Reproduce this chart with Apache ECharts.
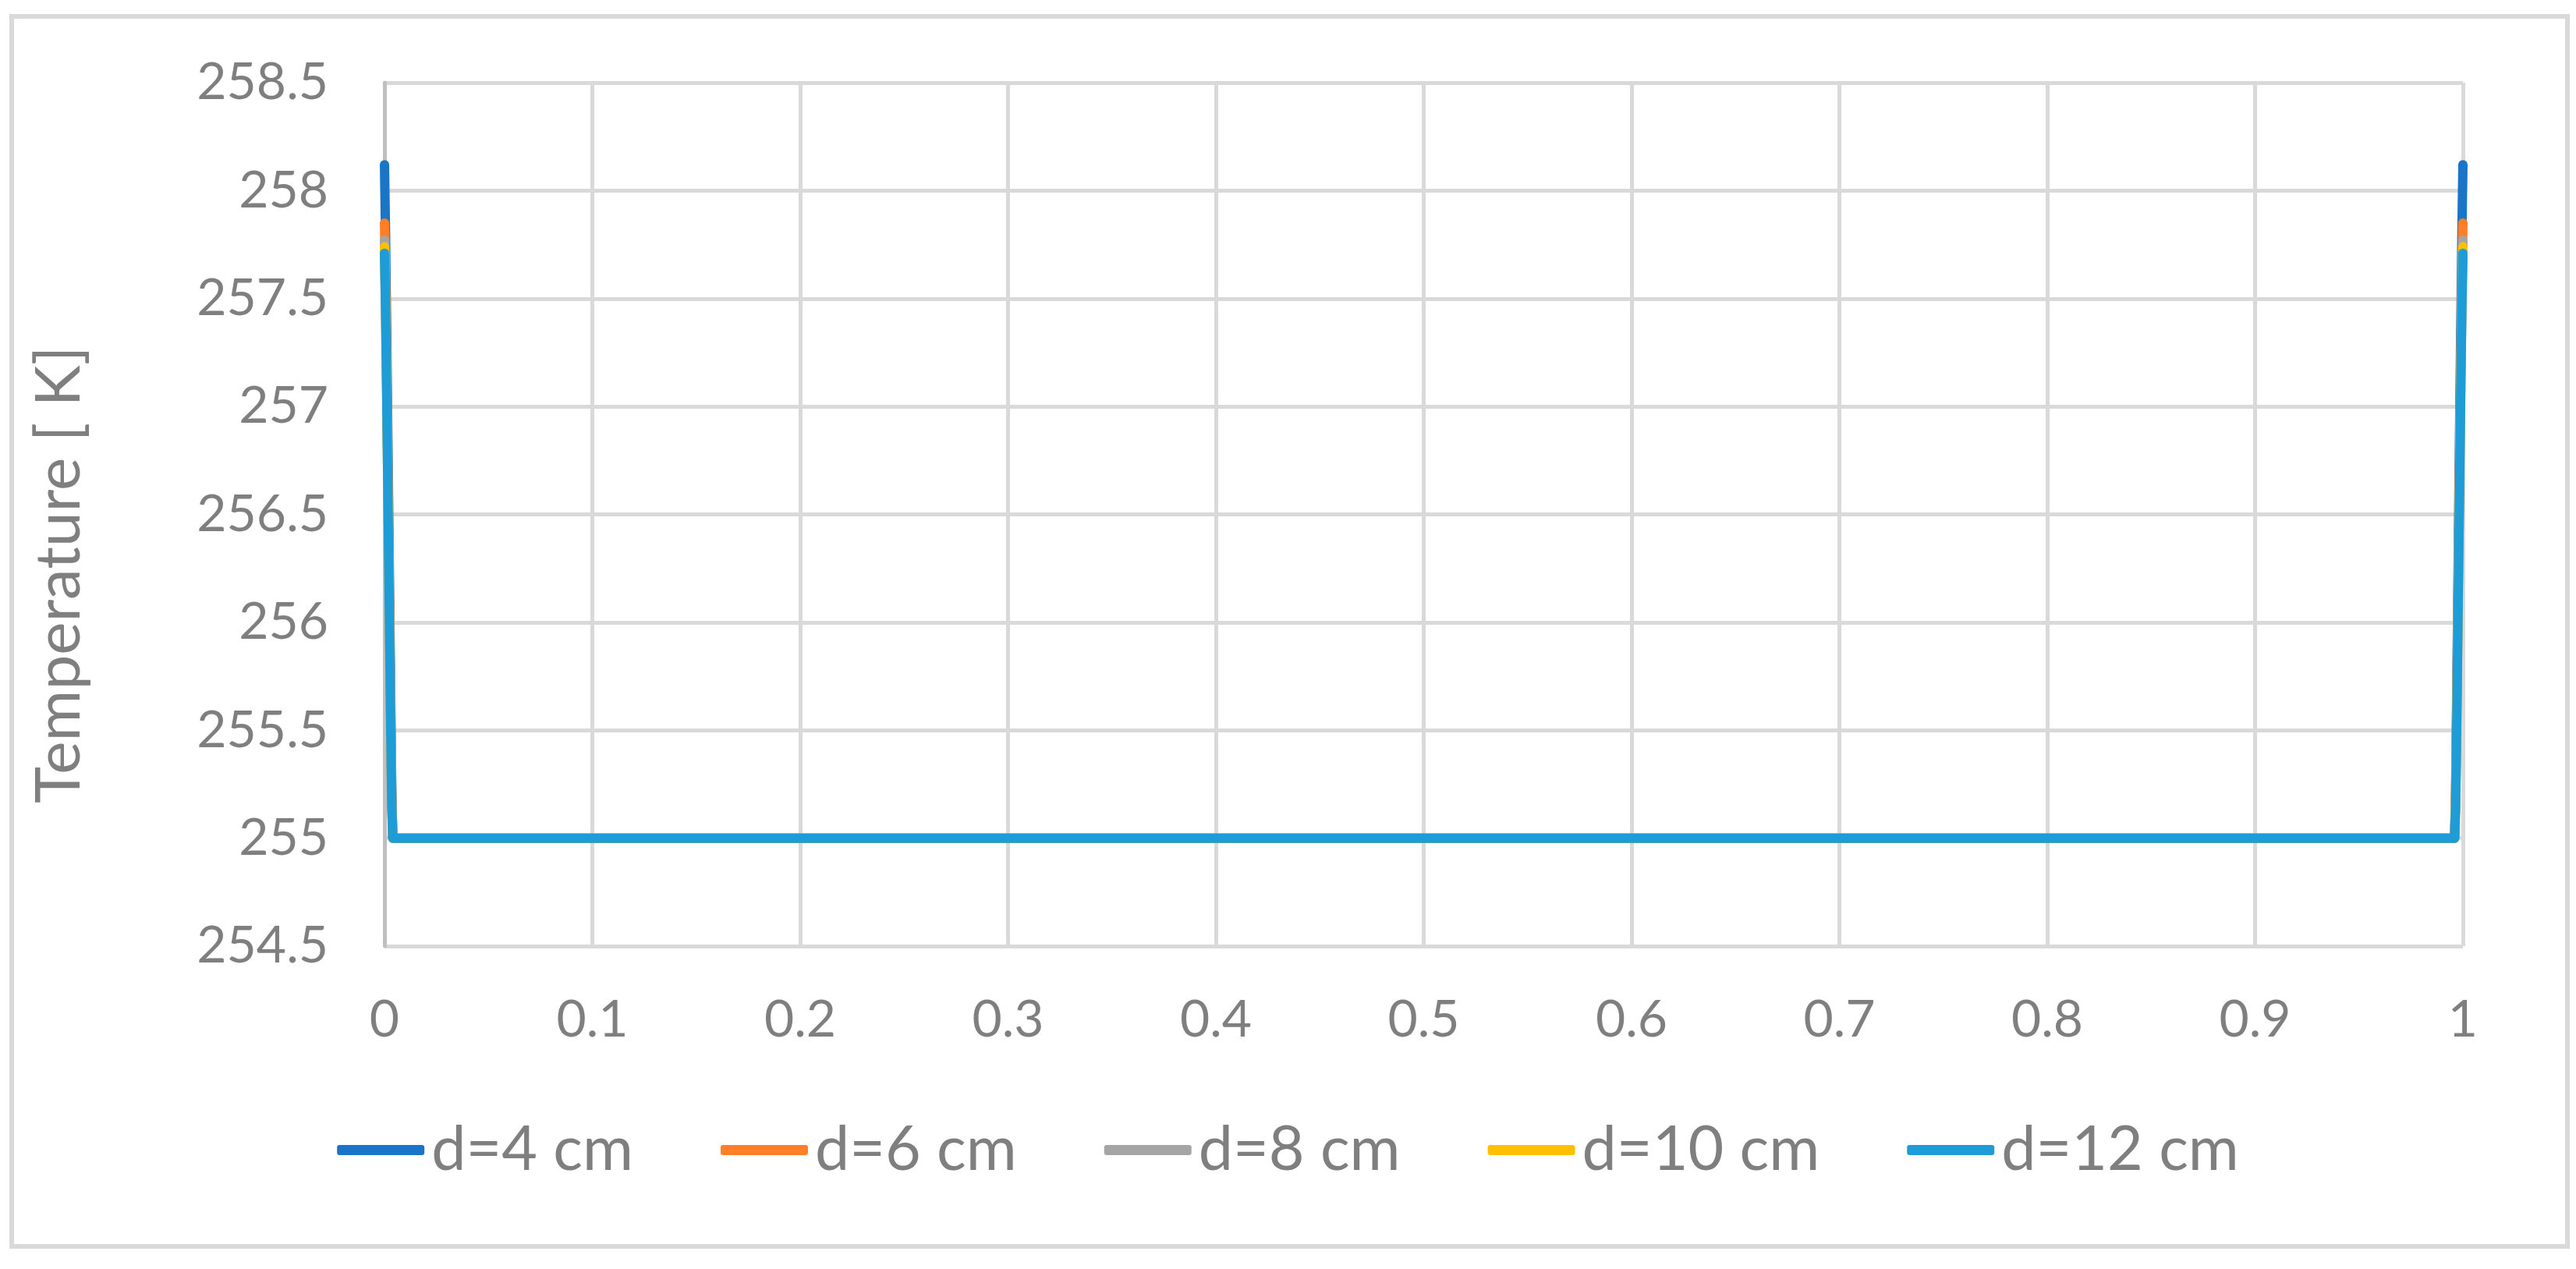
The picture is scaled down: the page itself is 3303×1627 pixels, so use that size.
<!DOCTYPE html>
<html>
<head>
<meta charset="utf-8">
<script src="https://cdn.jsdelivr.net/npm/echarts@6/dist/echarts.min.js"></script>
<style>
  html, body { margin: 0; padding: 0; background: #fff; }
  #chart { width: 3303px; height: 1627px; }
</style>
</head>
<body>
<div id="chart"></div>
<script>
// position along the wall (x), both boundary layers, flat part in between
const xValues = [0, 0.0005, 0.001, 0.0015, 0.002, 0.0025, 0.003, 0.0035, 0.004,
                 0.996, 0.9965, 0.997, 0.9975, 0.998, 0.9985, 0.999, 0.9995, 1]

const seriesNames = ['d=4 cm', 'd=6 cm', 'd=8 cm', 'd=10 cm', 'd=12 cm']
const seriesColors = ['#1a75c9', '#fe7f27', '#a5a5a5', '#ffc000', '#1e9cd8']

const tempD4  = [258.12, 257.80, 257.40, 256.98, 256.55, 256.10, 255.65, 255.22, 255.00,
                 255.00, 255.22, 255.65, 256.10, 256.55, 256.98, 257.40, 257.80, 258.12]
const tempD6  = [257.85, 257.58, 257.22, 256.82, 256.41, 256.00, 255.58, 255.19, 255.00,
                 255.00, 255.19, 255.58, 256.00, 256.41, 256.82, 257.22, 257.58, 257.85]
const tempD8  = [257.77, 257.50, 257.15, 256.75, 256.35, 255.95, 255.55, 255.17, 255.00,
                 255.00, 255.17, 255.55, 255.95, 256.35, 256.75, 257.15, 257.50, 257.77]
const tempD10 = [257.74, 257.47, 257.12, 256.72, 256.32, 255.92, 255.52, 255.16, 255.00,
                 255.00, 255.16, 255.52, 255.92, 256.32, 256.72, 257.12, 257.47, 257.74]
const tempD12 = [257.71, 257.45, 257.10, 256.70, 256.30, 255.90, 255.50, 255.15, 255.00,
                 255.00, 255.15, 255.50, 255.90, 256.30, 256.70, 257.10, 257.45, 257.71]

const allTemps = [tempD4, tempD6, tempD8, tempD10, tempD12]

const myChart = echarts.init(document.getElementById('chart'))

const textColor = '#7f7f7f'
const fontFamily = 'Lato, "Open Sans", sans-serif'

let series = seriesNames.map((name, k) => ({
  name: name,
  type: 'line',
  showSymbol: false,
  symbol: 'none',
  data: xValues.map((x, i) => [x, allTemps[k][i]]),
  color: seriesColors[k],
  lineStyle: { width: 12, cap: 'round', join: 'round', color: seriesColors[k] },
  z: 3 + k
}))

let option = {
  backgroundColor: '#ffffff',
  animation: false,
  textStyle: { fontFamily: fontFamily },
  graphic: [{
    type: 'rect',
    shape: { x: 15, y: 21, width: 3277, height: 1577 },
    style: { fill: 'none', stroke: '#d9d9d9', lineWidth: 6 },
    z: 0
  }, {
    // y axis title, sits a bit below the plot centre like the original
    type: 'text',
    x: 76,
    y: 737,
    rotation: Math.PI / 2,
    style: {
      text: 'Temperature [ K]',
      fill: textColor,
      font: '80px ' + fontFamily,
      textAlign: 'center',
      textVerticalAlign: 'middle'
    },
    z: 5
  }],
  grid: {
    left: 493,
    right: 145,
    top: 106,
    bottom: 414,
    containLabel: false
  },
  legend: {
    bottom: 108,
    left: 'center',
    itemWidth: 112,
    itemHeight: 13,
    itemGap: 112,
    icon: 'roundRect',
    data: seriesNames,
    textStyle: { color: textColor, fontSize: 79, fontFamily: fontFamily, padding: [0, 0, 0, 4] }
  },
  xAxis: {
    type: 'value',
    min: 0,
    max: 1,
    interval: 0.1,
    axisLine: { show: false },
    axisTick: { show: false },
    splitLine: { show: true, lineStyle: { color: '#d9d9d9', width: 5 } },
    axisLabel: { color: textColor, fontSize: 66, margin: 62, fontFamily: fontFamily }
  },
  yAxis: {
    type: 'value',
    min: 254.5,
    max: 258.5,
    interval: 0.5,
    axisLine: { show: true, onZero: false, lineStyle: { color: '#bfbfbf', width: 5 } },
    axisTick: { show: false },
    splitLine: { show: true, lineStyle: { color: '#d9d9d9', width: 5 } },
    axisLabel: { color: textColor, fontSize: 66, margin: 72, fontFamily: fontFamily }
  },
  series: series
}

myChart.setOption(option)
window.onresize = myChart.resize
</script>
</body>
</html>
